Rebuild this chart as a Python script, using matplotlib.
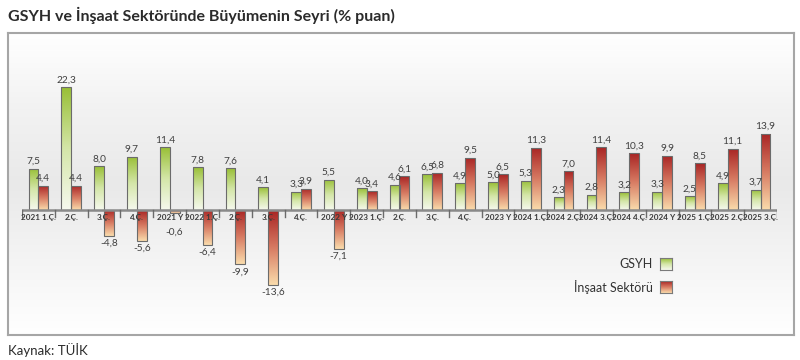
import numpy as np
import matplotlib
matplotlib.use('Agg')
import matplotlib.pyplot as plt
from matplotlib.colors import LinearSegmentedColormap

plt.rcParams['font.family'] = ['Lato', 'DejaVu Sans']

categories = ['2021 1.Ç.', '2.Ç.', '3.Ç.', '4.Ç.', '2021 Y', '2022 1.Ç.', '2.Ç.', '3.Ç.',
              '4.Ç.', '2022 Y', '2023 1.Ç.', '2.Ç.', '3.Ç.', '4.Ç.', '2023 Y', '2024 1.Ç.',
              '2024 2.Ç.', '2024 3.Ç.', '2024 4.Ç.', '2024 Y', '2025 1.Ç.', '2025 2.Ç.', '2025 3.Ç.']
gsyh = [7.5, 22.3, 8.0, 9.7, 11.4, 7.8, 7.6, 4.1, 3.3, 5.5, 4.0, 4.6, 6.5, 4.9, 5.0, 5.3,
        2.3, 2.8, 3.2, 3.3, 2.5, 4.9, 3.7]
insaat = [4.4, 4.4, -4.8, -5.6, -0.6, -6.4, -9.9, -13.6, 3.9, -7.1, 3.4, 6.1, 6.8, 9.5, 6.5, 11.3,
          7.0, 11.4, 10.3, 9.9, 8.5, 11.1, 13.9]

green_cmap = LinearSegmentedColormap.from_list('g', ['#98bf35', '#d4e6a8', '#f6f9ee'])
red_cmap = LinearSegmentedColormap.from_list('r', ['#a82424', '#d77a62', '#fadcac'])
grad = np.linspace(0, 1, 256).reshape(-1, 1)

fig = plt.figure(figsize=(8, 3.6), dpi=100)

# frame with light gray background band
bg = fig.add_axes([8 / 800, 1 - 335 / 360, 786 / 800, 302 / 360])
bg_cmap = LinearSegmentedColormap.from_list('bg', ['#ffffff', '#f2f2f2', '#e9e9e9', '#f4f4f4', '#ffffff'])
bg.imshow(grad, cmap=bg_cmap, aspect='auto', extent=(0, 1, 0, 1), origin='upper')
bg.set_xlim(0, 1)
bg.set_ylim(0, 1)
bg.set_xticks([])
bg.set_yticks([])
for s in bg.spines.values():
    s.set_edgecolor('#a6a6a6')
    s.set_linewidth(1.5)

ax = fig.add_axes([22 / 800, 1 - 298 / 360, 755 / 800, 231 / 360])
ax.patch.set_alpha(0)
x = np.arange(len(categories))
w = 0.3

b1 = ax.bar(x - w / 2, gsyh, w, facecolor='none', edgecolor='#6b6b6b', linewidth=0.8, zorder=3)
b2 = ax.bar(x + w / 2, insaat, w, facecolor='none', edgecolor='#6b6b6b', linewidth=0.8, zorder=3)

for bars, cmap in [(b1, green_cmap), (b2, red_cmap)]:
    for p in bars:
        x0, y0 = p.get_x(), p.get_y()
        x1, y1 = x0 + p.get_width(), y0 + p.get_height()
        lo, hi = min(y0, y1), max(y0, y1)
        im = ax.imshow(grad, cmap=cmap, aspect='auto', extent=(x0, x1, lo, hi),
                       origin='upper', zorder=2)
        im.set_clip_path(p)

def fmt(v):
    return f'{v:.1f}'.replace('.', ',')

for bars, vals in [(b1, gsyh), (b2, insaat)]:
    for p, v in zip(bars, vals):
        cx = p.get_x() + p.get_width() / 2
        if v >= 0:
            ax.annotate(fmt(v), (cx, v), xytext=(0, 2), textcoords='offset points',
                        ha='center', va='bottom', fontsize=7.3, color='#404040', zorder=5)
        else:
            # short negative bars: put the label below the category label
            off = -2 if v < -2 else -10
            ax.annotate(fmt(v), (cx, v), xytext=(0, off), textcoords='offset points',
                        ha='center', va='top', fontsize=7.3, color='#404040', zorder=5)

# zero axis with separators
ax.axhline(0, color='#8a8a8a', linewidth=1.8, zorder=4)
for b in np.arange(len(categories) + 1) - 0.5:
    ax.plot([b, b], [0, -1.2], color='#6b6b6b', linewidth=1, zorder=4)
for i, c in enumerate(categories):
    ax.annotate(c, (i, 0), xytext=(0, -3), textcoords='offset points', ha='center', va='top',
                fontsize=5.9, fontweight='bold', color='#3a3a3a', zorder=6)

ax.set_xlim(-0.5, len(categories) - 0.5)
ax.set_ylim(-16, 26)
ax.axis('off')

# legend
fig.text(653 / 800, 1 - 264 / 360, 'GSYH', ha='right', va='center', fontsize=9, color='#333333')
fig.text(653 / 800, 1 - 287 / 360, 'İnşaat Sektörü', ha='right', va='center', fontsize=9, color='#333333')
for yy, cmap in [(264, green_cmap), (287, red_cmap)]:
    lx = fig.add_axes([660 / 800, 1 - (yy + 6) / 360, 12 / 800, 12 / 360])
    lx.imshow(grad, cmap=cmap, aspect='auto', extent=(0, 1, 0, 1), origin='upper')
    lx.set_xticks([])
    lx.set_yticks([])
    for s in lx.spines.values():
        s.set_edgecolor('#7a7a7a')
        s.set_linewidth(0.8)

fig.text(8 / 800, 1 - 15 / 360, 'GSYH ve İnşaat Sektöründe Büyümenin Seyri (% puan)', ha='left',
         va='center', fontsize=11.5, fontweight='bold', color='#2b2b2b')
fig.text(8 / 800, 1 - 350 / 360, 'Kaynak: TÜİK', ha='left', va='center', fontsize=9.5, color='#2b2b2b')

fig.savefig('out.png', dpi=100)
